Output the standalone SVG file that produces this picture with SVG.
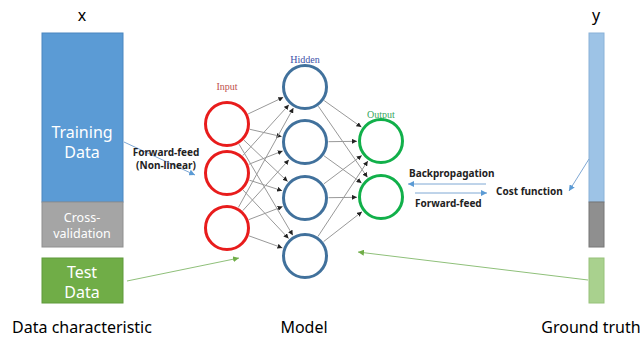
<svg xmlns="http://www.w3.org/2000/svg" width="644" height="339" viewBox="0 0 644 339">
<style>
.lbl{font-family:"Noto Sans","Open Sans",sans-serif;fill:#000;}
.big{font-size:16px;text-anchor:middle;}
.in{font-family:"Noto Sans","Open Sans",sans-serif;text-anchor:middle;fill:#fff;}
.b{font-family:"Noto Sans","Open Sans",sans-serif;font-weight:bold;font-size:10px;fill:#222;}
.ser{font-family:"Liberation Serif",serif;font-size:10px;text-anchor:middle;}
.edge{stroke:#999;stroke-width:1;fill:none;marker-end:url(#ah);}
.cin{fill:#fff;stroke:#e81c1c;stroke-width:3;}
.chid{fill:#fff;stroke:#41719c;stroke-width:3;}
.cout{fill:#fff;stroke:#11b04a;stroke-width:3;}
.blue{stroke:#7fa8d4;stroke-width:1;fill:none;marker-end:url(#ab);}
.green{stroke:#8fc07a;stroke-width:1;fill:none;marker-end:url(#ag);}
</style>
<defs>
<marker id="ah" viewBox="0 0 10 10" refX="10" refY="5" markerWidth="5" markerHeight="5" markerUnits="userSpaceOnUse" orient="auto"><path d="M0,0 L10,5 L0,10 z" fill="#222"/></marker>
<marker id="ab" viewBox="0 0 10 10" refX="10" refY="5" markerWidth="6" markerHeight="6" markerUnits="userSpaceOnUse" orient="auto"><path d="M0,0 L10,5 L0,10 z" fill="#5b9bd5"/></marker>
<marker id="ag" viewBox="0 0 10 10" refX="10" refY="5" markerWidth="6" markerHeight="6" markerUnits="userSpaceOnUse" orient="auto"><path d="M0,0 L10,5 L0,10 z" fill="#70ad47"/></marker>
</defs>
<rect width="644" height="339" fill="#fff"/>

<g id="x-data">
<text class="lbl big" x="82" y="21">x</text>
<rect x="42" y="33" width="81" height="169" fill="#5b9bd5" stroke="#4a86c0" stroke-width="1"/>
<text class="in" font-size="16" x="82" y="138">Training</text>
<text class="in" font-size="16" x="82" y="158">Data</text>
<rect x="42" y="202" width="81" height="45" fill="#a5a5a5" stroke="#8f8f8f" stroke-width="1"/>
<text class="in" font-size="12.5" x="82" y="222" fill="#eee">Cross-</text>
<text class="in" font-size="12.5" x="82" y="238" fill="#eee">validation</text>
<rect x="42" y="258" width="81" height="45" fill="#70ad47" stroke="#5f9a3a" stroke-width="1"/>
<text class="in" font-size="16" x="82" y="278">Test</text>
<text class="in" font-size="16" x="82" y="298">Data</text>
<text class="lbl big" x="82" y="333">Data characteristic</text>
</g>

<g id="y-data">
<text class="lbl big" x="596" y="21">y</text>
<rect x="589" y="33" width="15" height="169" fill="#9dc3e6" stroke="#8ab2d8" stroke-width="1"/>
<rect x="589" y="202" width="15" height="45" fill="#8f8f8f" stroke="#777" stroke-width="1"/>
<rect x="589" y="258" width="15" height="45" fill="#a9d18e" stroke="#97c27b" stroke-width="1"/>
<text class="lbl big" x="591" y="333">Ground truth</text>
</g>

<g id="connectors">
<line class="edge" x1="248.2" y1="113.9" x2="283.3" y2="97.3"/>
<line class="edge" x1="249.9" y1="129.3" x2="281.6" y2="136.6"/>
<line class="edge" x1="244.0" y1="140.2" x2="287.6" y2="181.5"/>
<line class="edge" x1="239.0" y1="144.2" x2="292.8" y2="235.3"/>
<line class="edge" x1="242.8" y1="155.6" x2="288.9" y2="104.8"/>
<line class="edge" x1="248.8" y1="164.3" x2="282.7" y2="150.9"/>
<line class="edge" x1="249.4" y1="180.2" x2="282.1" y2="190.7"/>
<line class="edge" x1="243.1" y1="190.1" x2="288.6" y2="238.5"/>
<line class="edge" x1="238.4" y1="207.4" x2="293.4" y2="108.0"/>
<line class="edge" x1="242.8" y1="210.6" x2="288.9" y2="159.8"/>
<line class="edge" x1="248.9" y1="219.6" x2="282.6" y2="206.6"/>
<line class="edge" x1="249.1" y1="235.9" x2="282.4" y2="247.9"/>
<line class="edge" x1="324.2" y1="100.6" x2="361.4" y2="127.1"/>
<line class="edge" x1="318.4" y1="106.3" x2="367.4" y2="177.3"/>
<line class="edge" x1="328.5" y1="141.7" x2="357" y2="141.3"/>
<line class="edge" x1="324.0" y1="155.8" x2="361.6" y2="182.9"/>
<line class="edge" x1="323.8" y1="183.9" x2="361.8" y2="155.4"/>
<line class="edge" x1="328.5" y1="197.7" x2="357" y2="197.3"/>
<line class="edge" x1="318.0" y1="236.4" x2="367.8" y2="161.0"/>
<line class="edge" x1="323.6" y1="241.6" x2="362.0" y2="211.7"/>
<line class="blue" x1="124" y1="142" x2="195" y2="175"/>
<line class="green" x1="127" y1="281" x2="239" y2="258"/>
<line class="green" x1="588" y1="280" x2="358" y2="252"/>
<line class="blue" x1="486" y1="184" x2="408" y2="184"/>
<line class="blue" x1="415" y1="193" x2="487" y2="193"/>
<line class="blue" x1="589" y1="159" x2="569" y2="191"/>
</g>

<g id="labels">
<text class="b" x="166" y="156" text-anchor="middle">Forward-feed</text>
<text class="b" x="166" y="169" text-anchor="middle">(Non-linear)</text>
<text class="b" x="409" y="177">Backpropagation</text>
<text class="b" x="415" y="207">Forward-feed</text>
<text class="b" x="496" y="195" font-size="11.5">Cost function</text>
</g>

<g id="input-layer">
<text class="ser" x="227" y="90" fill="#c0504d">Input</text>
<circle class="cin" cx="227" cy="124" r="21.5"/>
<circle class="cin" cx="227" cy="173" r="21.5"/>
<circle class="cin" cx="227" cy="228" r="21.5"/>
</g>
<g id="hidden-layer">
<text class="ser" x="305" y="63" fill="#3b4fa8">Hidden</text>
<circle class="chid" cx="305" cy="87" r="21.5"/>
<circle class="chid" cx="305" cy="142" r="21.5"/>
<circle class="chid" cx="305" cy="198" r="21.5"/>
<circle class="chid" cx="305" cy="256" r="21.5"/>
</g>
<g id="output-layer">
<text class="ser" x="381" y="118" fill="#3aa860">Output</text>
<circle class="cout" cx="381" cy="141" r="21.5"/>
<circle class="cout" cx="381" cy="197" r="21.5"/>
</g>
<g id="model-label"><text class="lbl big" x="304" y="333">Model</text></g>
</svg>
